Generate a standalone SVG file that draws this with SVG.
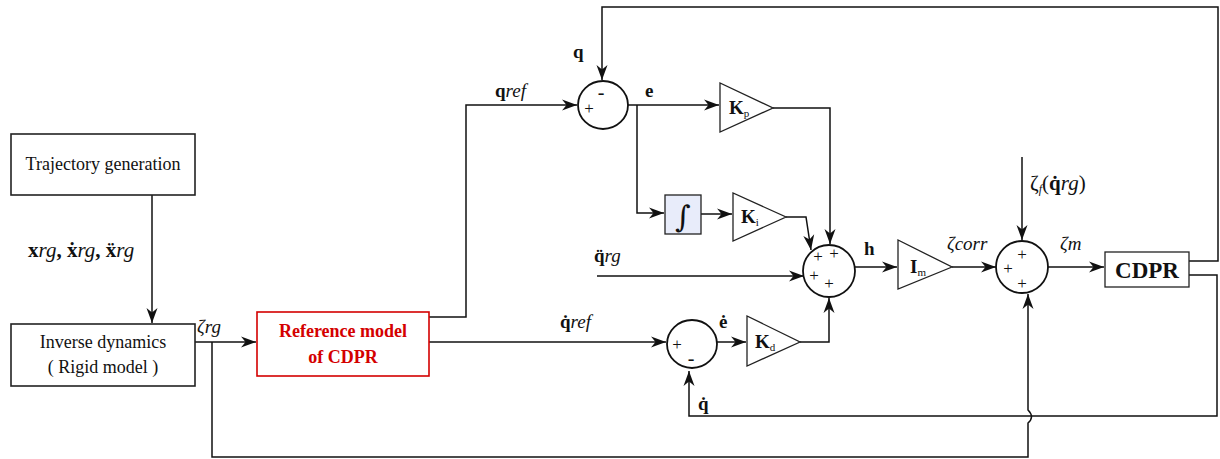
<svg xmlns="http://www.w3.org/2000/svg" width="1220" height="459" viewBox="0 0 1220 459">
<style>
.box{fill:#fff;stroke:#222;stroke-width:1.6}
.red{fill:#fff;stroke:#d40000;stroke-width:1.6}
.sum{fill:#fff;stroke:#111;stroke-width:1.8}
.tri{fill:#fff;stroke:#222;stroke-width:1.3}
.w{fill:none;stroke:#111;stroke-width:1.5}
text{font-family:"Liberation Serif","Times New Roman",serif;fill:#111}
.t{font-size:18px}
.lb{font-size:19px;font-weight:bold}
.it{font-style:italic;font-weight:normal}
.sg{font-size:17px;text-anchor:middle;dominant-baseline:central}
.sub{font-size:11px;font-weight:normal}
</style>
<defs>
<marker id="ar" markerUnits="userSpaceOnUse" markerWidth="16" markerHeight="12" viewBox="0 0 16 12" refX="15" refY="6" orient="auto">
<path d="M0,0.5 L15,6 L0,11.5 L4.5,6 z" fill="#111"/>
</marker>
</defs>

<g id="connectors">
<path class="w" d="M152,195 V323" marker-end="url(#ar)"/>
<path class="w" d="M195,342 H256" marker-end="url(#ar)"/>
<path class="w" d="M212,342 V457 H1028 V423 Q1035,417 1028,410 V294" marker-end="url(#ar)"/>
<path class="w" d="M429,317 H466 V105 H577" marker-end="url(#ar)"/>
<path class="w" d="M429,342 H666" marker-end="url(#ar)"/>
<path class="w" d="M1189,261 H1218 V7 H602 V80" marker-end="url(#ar)"/>
<path class="w" d="M628,105 H719" marker-end="url(#ar)"/>
<path class="w" d="M637,105 V213 H664" marker-end="url(#ar)"/>
<path class="w" d="M701,214 H732" marker-end="url(#ar)"/>
<path class="w" d="M786,217 H806 L811,250" marker-end="url(#ar)"/>
<path class="w" d="M773,108 H830 V244" marker-end="url(#ar)"/>
<path class="w" d="M597,276 H804" marker-end="url(#ar)"/>
<path class="w" d="M855,267 H897" marker-end="url(#ar)"/>
<path class="w" d="M952,267 H996" marker-end="url(#ar)"/>
<path class="w" d="M1022,157 V240" marker-end="url(#ar)"/>
<path class="w" d="M1048,267 H1104" marker-end="url(#ar)"/>
<path class="w" d="M717,342 H746" marker-end="url(#ar)"/>
<path class="w" d="M800,342 H829 V298" marker-end="url(#ar)"/>
<path class="w" d="M1189,275 H1217 V416 H689 V371" marker-end="url(#ar)"/>
</g>

<g id="traj">
<rect class="box" x="11" y="134" width="184" height="61"/>
<text class="t" x="103" y="170" text-anchor="middle">Trajectory generation</text>
</g>
<g id="invdyn">
<rect class="box" x="11" y="324" width="184" height="62"/>
<text class="t" x="103" y="348" text-anchor="middle">Inverse dynamics</text>
<text class="t" x="103" y="373" text-anchor="middle">( Rigid model )</text>
</g>
<g id="refmodel">
<rect class="red" x="257" y="312" width="172" height="64"/>
<text class="t" x="343" y="337" text-anchor="middle" font-weight="bold" style="fill:#d40000">Reference model</text>
<text class="t" x="343" y="363" text-anchor="middle" font-weight="bold" style="fill:#d40000">of CDPR</text>
</g>
<g id="sum1">
<ellipse class="sum" cx="603" cy="105" rx="25" ry="24"/>
<text class="sg" x="589" y="108">+</text>
<text class="sg" x="601" y="92" style="font-size:20px">-</text>
</g>
<g id="kp">
<polygon class="tri" points="720,83 720,132 773,108"/>
<text class="lb" x="729" y="114">K<tspan class="sub" dy="3">p</tspan></text>
</g>
<g id="integrator">
<rect x="665" y="195" width="36" height="39" fill="#e8ecfa" stroke="#222" stroke-width="1.3"/>
<text x="683" y="227" text-anchor="middle" font-size="30px" style="font-family:'DejaVu Serif',serif">∫</text>
</g>
<g id="ki">
<polygon class="tri" points="733,193 733,241 786,217"/>
<text class="lb" x="741" y="223">K<tspan class="sub" dy="3">i</tspan></text>
</g>
<g id="sum3">
<circle class="sum" cx="829" cy="271" r="26"/>
<text class="sg" x="818" y="256">+</text>
<text class="sg" x="834" y="253">+</text>
<text class="sg" x="814" y="275">+</text>
<text class="sg" x="829" y="283">+</text>
</g>
<g id="im">
<polygon class="tri" points="898,240 898,289 952,267"/>
<text class="lb" x="910" y="273">I<tspan class="sub" dy="3">m</tspan></text>
</g>
<g id="sum4">
<circle class="sum" cx="1022" cy="267" r="26"/>
<text class="sg" x="1022" y="254">+</text>
<text class="sg" x="1008" y="268">+</text>
<text class="sg" x="1022" y="283">+</text>
</g>
<g id="cdpr">
<rect class="box" x="1105" y="252" width="84" height="35" style="stroke-width:1.3"/>
<text x="1147" y="278" text-anchor="middle" font-weight="bold" style="font-size:23px">CDPR</text>
</g>
<g id="sum2">
<ellipse class="sum" cx="692" cy="344" rx="25" ry="24"/>
<text class="sg" x="677" y="344">+</text>
<text class="sg" x="691" y="358" style="font-size:20px">-</text>
</g>
<g id="kd">
<polygon class="tri" points="747,316 747,366 800,342"/>
<text class="lb" x="755" y="348">K<tspan class="sub" dy="3">d</tspan></text>
</g>

<g id="labels">
<text class="lb" x="28" y="257" style="font-size:21px">x<tspan class="it">rg</tspan>, ẋ<tspan class="it">rg</tspan>, ẍ<tspan class="it">rg</tspan></text>
<text class="t" x="197" y="333" font-style="italic" style="font-size:19px">ζrg</text>
<text class="lb" x="495" y="97">q<tspan class="it">ref</tspan></text>
<text class="lb" x="573" y="58">q</text>
<text class="lb" x="645" y="97">e</text>
<text class="lb" x="594" y="262">q̈<tspan class="it">rg</tspan></text>
<text class="lb" x="864" y="255">h</text>
<text class="t" x="947" y="250" font-style="italic" style="font-size:19px">ζcorr</text>
<text class="t" x="1060" y="250" font-style="italic" style="font-size:19px">ζm</text>
<text class="t" x="1030" y="190" style="font-size:21px">ζ<tspan font-size="12px" font-style="italic" dy="3">f</tspan><tspan dy="-3">(</tspan><tspan font-weight="bold">q̇</tspan><tspan font-style="italic">rg</tspan>)</text>
<text class="lb" x="560" y="328">q̇<tspan class="it">ref</tspan></text>
<text class="lb" x="719" y="328">ė</text>
<text class="lb" x="698" y="410">q̇</text>
</g>
</svg>
